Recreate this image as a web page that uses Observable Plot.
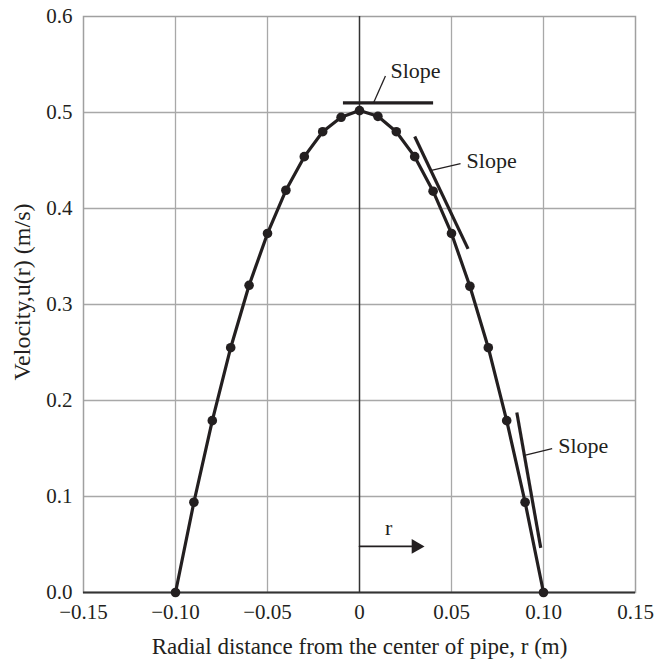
<!DOCTYPE html>
<html><head><meta charset="utf-8">
<script src="https://cdn.jsdelivr.net/npm/d3@7"></script>
<script src="https://cdn.jsdelivr.net/npm/@observablehq/plot@0.6"></script>
<style>body{margin:0;background:#fff;}</style>
</head><body><div id="chart"></div>
<script>
const radius = [-0.10,-0.09,-0.08,-0.07,-0.06,-0.05,-0.04,-0.03,-0.02,-0.01,0,0.01,0.02,0.03,0.04,0.05,0.06,0.07,0.08,0.09,0.10];
const velocity = [0,0.094,0.179,0.255,0.320,0.374,0.419,0.454,0.480,0.495,0.502,0.496,0.480,0.454,0.418,0.374,0.319,0.255,0.179,0.094,0];
const xTicks = [-0.15,-0.10,-0.05,0,0.05,0.10,0.15];
const xTickLabels = ["\u22120.15","\u22120.10","\u22120.05","0","0.05","0.10","0.15"];
const yTicks = [0,0.1,0.2,0.3,0.4,0.5,0.6];
const yTickLabels = ["0.0","0.1","0.2","0.3","0.4","0.5","0.6"];
const xGrid = [-0.10,-0.05,0.05,0.10];
const yGrid = [0.1,0.2,0.3,0.4,0.5];
const xTitle = "Radial distance from the center of pipe, r (m)";
const yTitle = "Velocity,u(r) (m/s)";
// tangent ("slope") lines
const slopeX1 = [-0.009,0.030,0.0855];
const slopeY1 = [0.510,0.475,0.1875];
const slopeX2 = [0.040,0.059,0.0985];
const slopeY2 = [0.510,0.358,0.0465];
// leader lines to the "Slope" labels
const leadX1 = [0.0076,0.0391,0.0902];
const leadY1 = [0.510,0.4398,0.1432];
const leadX2 = [0.0141,0.0549,0.1047];
const leadY2 = [0.538,0.4467,0.1498];
const labelX = [0.0168,0.0582,0.108];
const labelY = [0.543,0.4495,0.1526];
const labelText = ["Slope","Slope","Slope"];
// direction arrow
const arrowX = [0,0.0337];
const arrowY = [0.048,0.048];
const arrowLabel = "r";
const arrowLabelX = 0.0158, arrowLabelY = 0.067;

const pts = radius.map((r,i)=>({r, u: velocity[i]}));
const slopes = slopeX1.map((v,i)=>({x1:v,y1:slopeY1[i],x2:slopeX2[i],y2:slopeY2[i]}));
const leads = leadX1.map((v,i)=>({x1:v,y1:leadY1[i],x2:leadX2[i],y2:leadY2[i]}));
const labels = labelX.map((v,i)=>({x:v,y:labelY[i],t:labelText[i]}));
const ink = "#231f20";
const font = "'Liberation Serif', 'Times New Roman', serif";

const chart = Plot.plot({
  width: 664, height: 661,
  marginLeft: 83, marginRight: 29, marginTop: 16, marginBottom: 69,
  style: {fontFamily: font, fontSize: "21px", color: ink, background: "#fff", overflow: "visible"},
  x: {domain: [-0.15, 0.15]},
  y: {domain: [0, 0.6]},
  marks: [
    Plot.ruleX(xGrid, {stroke: "#a8a8a8", strokeWidth: 1.3}),
    Plot.ruleY(yGrid, {stroke: "#a8a8a8", strokeWidth: 1.3}),
    Plot.frame({stroke: "#a0a0a0", strokeWidth: 1.5}),
    Plot.ruleX([0], {stroke: "#333", strokeWidth: 1.5}),
    Plot.ruleY([0], {stroke: "#333", strokeWidth: 1.8}),
    Plot.axisX(xTicks, {tickSize: 0, tickPadding: 12, fontSize: 21, tickFormat: (d,i)=>xTickLabels[i], label: null}),
    Plot.axisY(yTicks, {tickSize: 0, tickPadding: 11, fontSize: 21, tickFormat: (d,i)=>yTickLabels[i], label: null}),
    Plot.text([xTitle], {frameAnchor: "bottom", dy: 54, lineAnchor: "middle", textAnchor: "middle", fontSize: 23, fill: ink}),
    Plot.text([{y: 0.313}], {y: "y", frameAnchor: "left", dx: -61, rotate: -90, text: () => yTitle, lineAnchor: "middle", textAnchor: "middle", fontSize: 24, fill: ink}),
    Plot.line(pts, {x: "r", y: "u", stroke: ink, strokeWidth: 3.2}),
    Plot.dot(pts, {x: "r", y: "u", r: 4.8, fill: ink}),
    Plot.link(slopes, {x1: "x1", y1: "y1", x2: "x2", y2: "y2", stroke: ink, strokeWidth: 3.2}),
    Plot.link(leads, {x1: "x1", y1: "y1", x2: "x2", y2: "y2", stroke: ink, strokeWidth: 1.3}),
    Plot.text(labels, {x: "x", y: "y", text: "t", textAnchor: "start", fontSize: 22, fill: ink}),
    Plot.line(arrowX.map((x,i)=>({x, y: arrowY[i]})), {x: "x", y: "y", stroke: ink, strokeWidth: 1.6}),
    Plot.dot([{x: arrowX[1] - 0.003, y: arrowY[1]}], {x: "x", y: "y", symbol: "triangle", rotate: 90, r: 5.5, fill: ink}),
    Plot.text([{x: arrowLabelX, y: arrowLabelY}], {x: "x", y: "y", text: () => arrowLabel, fontSize: 22, fill: ink})
  ]
});
document.getElementById("chart").append(chart);
</script>
</body></html>
